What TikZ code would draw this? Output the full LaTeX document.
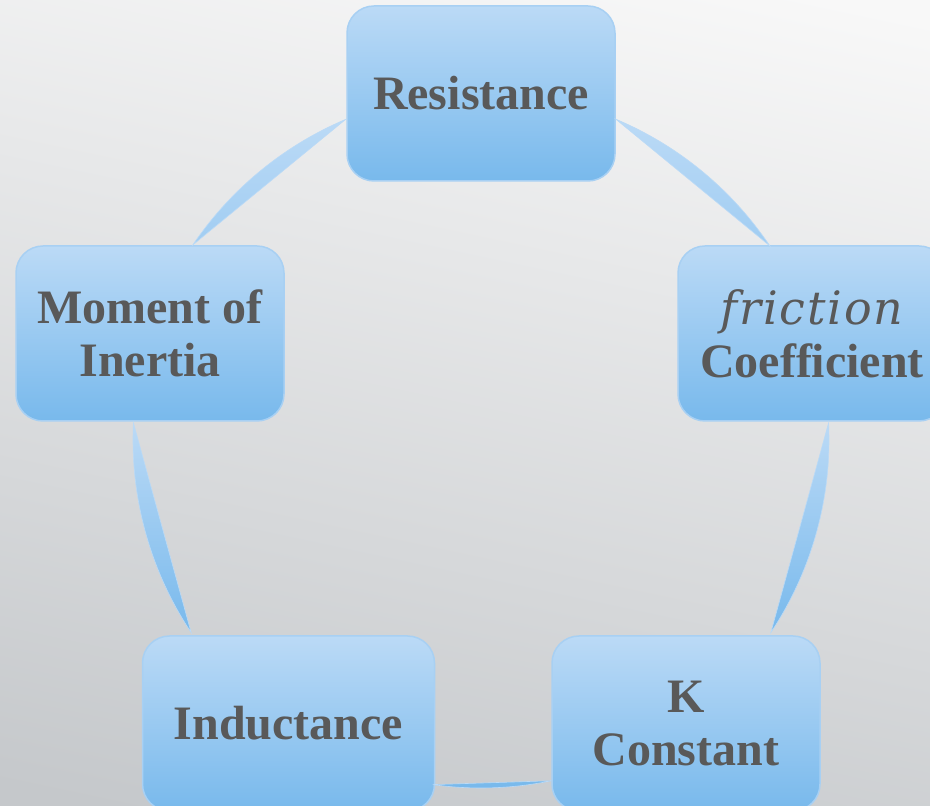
\documentclass[tikz,border=0pt]{standalone}
\usepackage{fontspec}
\setmainfont{Liberation Serif}
\newfontfamily\fricfont[LetterSpace=4]{DejaVu Serif}
\usetikzlibrary{calc}
\definecolor{txt}{HTML}{595959}
\definecolor{boxtop}{HTML}{BBDAF6}
\definecolor{boxbot}{HTML}{78B9EC}
\definecolor{boxline}{HTML}{A8D0F3}
\definecolor{bgtop}{HTML}{F8F8F8}
\definecolor{bgmid}{HTML}{E7E8E8}
\definecolor{bgbot}{HTML}{C5C8CB}
\begin{document}
\begin{tikzpicture}[x=1pt,y=1pt,
  box/.style={rounded corners=27pt, draw=boxline, line width=1.5pt,
    top color=boxtop, bottom color=boxbot, minimum height=175pt,
    text=txt, font=\fontsize{48}{53}\selectfont\bfseries, align=center, inner sep=0pt},
  lens/.style={top color=boxtop, bottom color=boxbot, draw=boxtop, line width=0.6pt}]
\useasboundingbox (0,0) rectangle (930,806);
\clip (0,0) rectangle (930,806);
\shade[top color=bgtop, middle color=bgmid, bottom color=bgbot, shading angle=-12]
  (-60,-60) rectangle (990,866);
% nodes
\node[box, minimum width=268pt] (res) at (481,712.5) {Resistance};
\node[box, minimum width=268pt] (mom) at (150,472.5) {Moment of\\Inertia};
\node[box, minimum width=268pt] (fri) at (812,472.5)
  {{\fricfont\mdseries\itshape\fontsize{46}{53}\selectfont friction}\\Coefficient};
\node[box, minimum width=292pt] (ind) at (288.5,82.5) {Inductance};
\node[box, minimum width=268pt] (kc) at (686,82.5) {K\\Constant};
% connectors (crescents on the cycle circle)
\coordinate (O) at (481,366);
\path[lens] (O) ++(112.9:348) coordinate (l1a)
  arc[start angle=112.9, end angle=145.9, radius=348] coordinate (l1b) -- cycle;
\path[lens] (O) ++(67.2:348) coordinate (l2a)
  arc[start angle=67.2, end angle=33.9, radius=348] coordinate (l2b) -- cycle;
\path[lens] (O) ++(2.8:348) coordinate (l3a)
  arc[start angle=2.8, end angle=-33.6, radius=348] coordinate (l3b) -- cycle;
\path[lens] (O) ++(177.2:348) coordinate (l4a)
  arc[start angle=177.2, end angle=213.6, radius=348] coordinate (l4b) -- cycle;
\path[lens] (O) ++(262.0:348) coordinate (l5a)
  arc[start angle=262.0, end angle=281.7, radius=348] coordinate (l5b) -- cycle;
\end{tikzpicture}
\end{document}
